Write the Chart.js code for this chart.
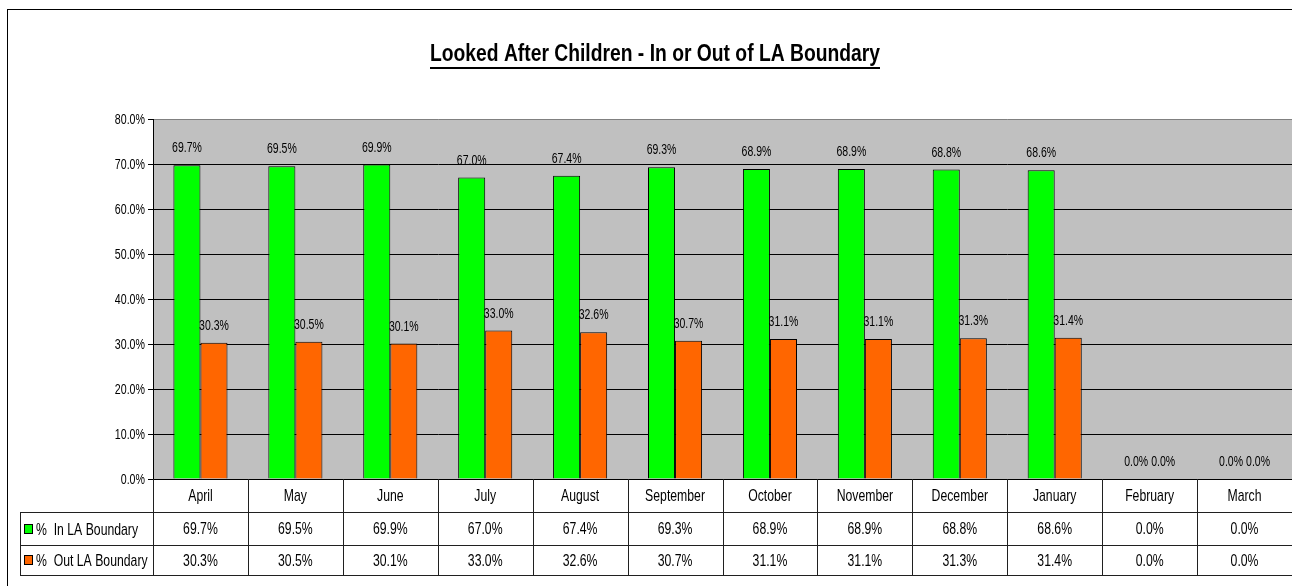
<!DOCTYPE html>
<html>
<head>
<meta charset="utf-8">
<script src="https://cdn.jsdelivr.net/npm/chart.js@4"></script>
<style>
html, body { margin: 0; padding: 0; background: #fff; }
#wrap { width: 1292px; height: 586px; position: relative; }
</style>
</head>
<body>
<div id="wrap"><canvas id="myChart"></canvas></div>
<script>
const months = ["April", "May", "June", "July", "August", "September", "October", "November", "December", "January", "February", "March"];
const inLA = [69.7, 69.5, 69.9, 67.0, 67.4, 69.3, 68.9, 68.9, 68.8, 68.6, 0.0, 0.0];
const outLA = [30.3, 30.5, 30.1, 33.0, 32.6, 30.7, 31.1, 31.1, 31.3, 31.4, 0.0, 0.0];
const seriesNames = ["%  In LA Boundary", "%  Out LA Boundary"];
const seriesColors = ["#00FF00", "#FF6600"];
const titleText = "Looked After Children - In or Out of LA Boundary";

const FONT = '"Liberation Sans", Arial, sans-serif';
const pct = (v) => v.toFixed(1) + "%";

// the original uses a very narrow face, so squeeze text horizontally
function narrowText(ctx, text, x, y, font, sx, align) {
  ctx.save();
  ctx.font = font;
  ctx.textAlign = align || "center";
  ctx.textBaseline = "middle";
  ctx.translate(x, y);
  ctx.scale(sx, 1);
  ctx.fillText(text, 0, 0);
  ctx.restore();
}

// white page, frame and grey plot area
const backPlugin = {
  id: "back",
  beforeDraw(chart) {
    const ctx = chart.ctx;
    const a = chart.chartArea;
    ctx.save();
    ctx.fillStyle = "#fff";
    ctx.fillRect(0, 0, chart.width, chart.height);
    ctx.strokeStyle = "#000";
    ctx.lineWidth = 1;
    ctx.strokeRect(7.5, 9.5, chart.width + 50, chart.height + 50);
    ctx.fillStyle = "#C0C0C0";
    ctx.fillRect(a.left, a.top, a.right - a.left, a.bottom - a.top);
    ctx.restore();
  }
};

// underlined bold title + y tick labels
const textPlugin = {
  id: "texts",
  afterDraw(chart) {
    const ctx = chart.ctx;
    ctx.save();
    ctx.fillStyle = "#000";
    const font = "bold 23px " + FONT;
    ctx.font = font;
    const full = ctx.measureText(titleText).width;
    const sx = 450 / full;
    const cx = 655;
    narrowText(ctx, titleText, cx, 55, font, sx, "center");
    ctx.fillRect(cx - 225, 67, 450, 2);

    const y = chart.scales.y;
    y.ticks.forEach((t) => {
      narrowText(ctx, pct(t.value), 145, y.getPixelForValue(t.value) + 1, "14px " + FONT, 0.76, "right");
    });
    ctx.restore();
  }
};

// value labels above bars
const labelPlugin = {
  id: "barLabels",
  afterDatasetsDraw(chart) {
    const ctx = chart.ctx;
    ctx.save();
    ctx.fillStyle = "#000";
    chart.data.datasets.forEach((ds, i) => {
      chart.getDatasetMeta(i).data.forEach((bar, j) => {
        narrowText(ctx, pct(ds.data[j]), bar.x, bar.y - 17, "15px " + FONT, 0.7, "center");
      });
    });
    ctx.restore();
  }
};

// data table below the plot
const tablePlugin = {
  id: "dataTable",
  afterDraw(chart) {
    const ctx = chart.ctx;
    const x = chart.scales.x;
    const a = chart.chartArea;
    const w = (a.right - a.left) / months.length;
    const r0 = a.bottom, r1 = r0 + 33, r2 = r1 + 33, r3 = r2 + 30;
    const legLeft = 20;
    ctx.save();
    ctx.strokeStyle = "#202020";
    ctx.lineWidth = 1;
    ctx.beginPath();
    [r1, r2, r3].forEach((yy) => {
      ctx.moveTo(legLeft, yy + 0.5);
      ctx.lineTo(a.right, yy + 0.5);
    });
    for (let i = 0; i <= months.length; i++) {
      const xx = Math.round(a.left + i * w) + 0.5;
      ctx.moveTo(xx, r0);
      ctx.lineTo(xx, r3);
    }
    ctx.moveTo(legLeft + 0.5, r1);
    ctx.lineTo(legLeft + 0.5, r3);
    ctx.stroke();

    ctx.fillStyle = "#000";
    const f = "17px " + FONT;
    months.forEach((m, i) => {
      const cx = x.getPixelForValue(i);
      narrowText(ctx, m, cx, (r0 + r1) / 2 + 1, f, 0.72);
      narrowText(ctx, pct(inLA[i]), cx, (r1 + r2) / 2 + 1, f, 0.72);
      narrowText(ctx, pct(outLA[i]), cx, (r2 + r3) / 2 + 1, f, 0.72);
    });

    // legend keys
    [[r1, r2], [r2, r3]].forEach(([t, b], k) => {
      const cy = Math.round((t + b) / 2);
      ctx.fillStyle = seriesColors[k];
      ctx.fillRect(24, cy - 4, 8, 9);
      ctx.strokeStyle = "#000";
      ctx.strokeRect(24.5, cy - 4.5, 8, 9);
      ctx.fillStyle = "#000";
      narrowText(ctx, seriesNames[k], 36, cy + 1, f, 0.72, "left");
    });
    ctx.restore();
  }
};

const ctx = document.getElementById("myChart");
new Chart(ctx, {
  type: "bar",
  data: {
    labels: months,
    datasets: [
      {
        label: seriesNames[0],
        data: inLA,
        backgroundColor: seriesColors[0],
        borderColor: "#000",
        borderWidth: 1,
        categoryPercentage: 0.57,
        barPercentage: 1.0,
      },
      {
        label: seriesNames[1],
        data: outLA,
        backgroundColor: seriesColors[1],
        borderColor: "#000",
        borderWidth: 1,
        categoryPercentage: 0.57,
        barPercentage: 1.0,
      },
    ],
  },
  options: {
    responsive: true,
    maintainAspectRatio: false,
    animation: false,
    layout: { padding: { left: 0, right: 0, top: 119, bottom: 107 } },
    plugins: {
      legend: { display: false },
      title: { display: false },
      tooltip: { enabled: false },
    },
    scales: {
      x: { display: false },
      y: {
        min: 0,
        max: 80,
        ticks: {
          stepSize: 10,
          color: "rgba(0,0,0,0)",
          padding: 3,
          font: { family: FONT, size: 12 },
          callback: (v) => pct(v),
        },
        grid: {
          color: (c) => (c.tick && c.tick.value === 80 ? "#808080" : "#000"),
          tickColor: "#000",
          tickLength: 5,
          lineWidth: 1,
        },
        border: { color: "#000" },
        afterFit(scale) {
          scale.width = 153;
        },
      },
    },
  },
  plugins: [backPlugin, textPlugin, labelPlugin, tablePlugin],
});
</script>
</body>
</html>
